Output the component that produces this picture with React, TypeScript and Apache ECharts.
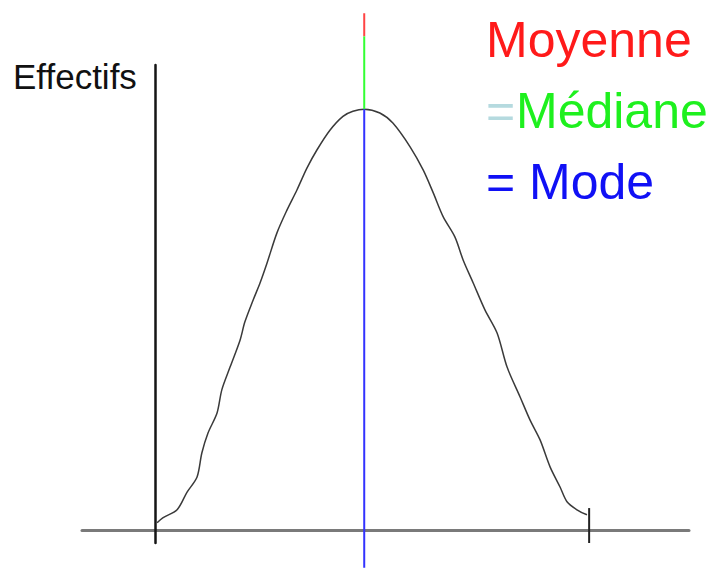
import React, { useEffect, useRef } from "react";
import * as echarts from "echarts";

// Frequency curve: x on a 0–100 scale (end tick at 100), y in effectif units (peak = 100)
const curveX = [
  0.5, 1.8, 5.1, 7.4, 9.7, 10.8, 12.2, 14.3, 15.4, 17.3, 19.6, 20.7, 22.6, 24.2,
  25.8, 28.1, 30.4, 32.7, 35.0, 37.3, 40.3, 43.3, 45.6, 48.2, 51.8, 54.8, 58.8,
  61.8, 64.1, 66.4, 69.1, 71.0, 73.3, 76.0, 78.8, 81.1, 84.1, 86.4, 88.7, 91.0,
  93.3, 94.9, 97.2, 99.5,
];
const curveY = [
  1.7, 2.9, 4.8, 9.0, 12.6, 18.3, 23.0, 27.8, 33.3, 38.7, 45.1, 49.4, 54.6, 58.7,
  63.4, 70.6, 76.0, 80.8, 86.0, 90.3, 95.0, 98.3, 99.5, 100.0, 99.1, 96.7, 91.0,
  85.5, 80.1, 74.4, 69.6, 64.1, 58.7, 52.3, 46.8, 38.7, 31.6, 26.1, 21.4, 15.0,
  10.2, 6.7, 4.8, 3.6,
];

// Central value: mean = median = mode
const centerX = 48.2;
const meanTop = 122.8;
const medianTop = 117.3;
const modeTop = 100.0;
const modeBottom = -9.0;

// Right end of the distribution
const endX = 100;
const endTickTop = 5.2;

// Axis extents
const xMin = -16.8;
const xMax = 123.0;
const yMin = -3.1;
const yMax = 110.5;

const yAxisTitle = "Effectifs";
const meanLabel = "Moyenne";
const medianEq = "=";
const medianLabel = "Médiane";
const modeLabel = "= Mode";

const FONT = '"Liberation Sans", Arial, Helvetica, sans-serif';

export default function App() {
  const ref = useRef<HTMLDivElement>(null);

  useEffect(() => {
    if (!ref.current) return;
    const chart = echarts.init(ref.current, undefined, { renderer: "svg" });

    const curve = curveX.map((x, i) => [x, curveY[i]]);
    const vSeg = (name: string, y0: number, y1: number, color: string, x = centerX, width = 2) => ({
      name,
      type: "line",
      data: [
        [x, y0],
        [x, y1],
      ],
      symbol: "none",
      clip: false,
      lineStyle: { color, width },
      z: 5,
    });

    chart.setOption({
      animation: false,
      backgroundColor: "#ffffff",
      grid: { left: 82, right: 23, top: 65, bottom: 25 },
      xAxis: {
        type: "value",
        min: xMin,
        max: xMax,
        axisLine: { show: true, onZero: true, lineStyle: { color: "#7a7a7a", width: 3 } },
        axisTick: { show: false },
        axisLabel: { show: false },
        splitLine: { show: false },
        z: 1,
      },
      yAxis: {
        type: "value",
        min: yMin,
        max: yMax,
        axisLine: { show: true, onZero: true, lineStyle: { color: "#151515", width: 2.5 } },
        axisTick: { show: false },
        axisLabel: { show: false },
        splitLine: { show: false },
        z: 2,
      },
      series: [
        {
          name: "Effectifs",
          type: "line",
          data: curve,
          symbol: "none",
          smooth: 0.3,
          lineStyle: { color: "#3a3a3a", width: 1.5 },
          z: 3,
        },
        vSeg("Moyenne", meanTop, medianTop, "#ff4444"),
        vSeg("Médiane", medianTop, modeTop, "#33ff33"),
        vSeg("Mode", modeTop, modeBottom, "#3333ff"),
        vSeg("Fin", endTickTop, yMin, "#222222", endX, 2),
      ],
      graphic: [
        {
          type: "text",
          x: 13,
          y: 76,
          style: { text: yAxisTitle, font: `35px ${FONT}`, fill: "#111111", verticalAlign: "middle" },
        },
        {
          type: "text",
          x: 486,
          y: 40,
          style: { text: meanLabel, font: `50px ${FONT}`, fill: "#ff1a1a", verticalAlign: "middle" },
        },
        {
          type: "text",
          x: 486,
          y: 111,
          style: { text: medianEq, font: `50px ${FONT}`, fill: "#b5dadf", verticalAlign: "middle" },
        },
        {
          type: "text",
          x: 516,
          y: 111,
          style: { text: medianLabel, font: `50px ${FONT}`, fill: "#1ef01e", verticalAlign: "middle" },
        },
        {
          type: "text",
          x: 486,
          y: 182,
          style: { text: modeLabel, font: `50px ${FONT}`, fill: "#1010f5", verticalAlign: "middle" },
        },
      ],
    });

    return () => chart.dispose();
  }, []);

  return (
    <div
      ref={ref}
      style={{ position: "fixed", left: 0, top: 0, width: 712, height: 568, background: "#fff" }}
    />
  );
}
